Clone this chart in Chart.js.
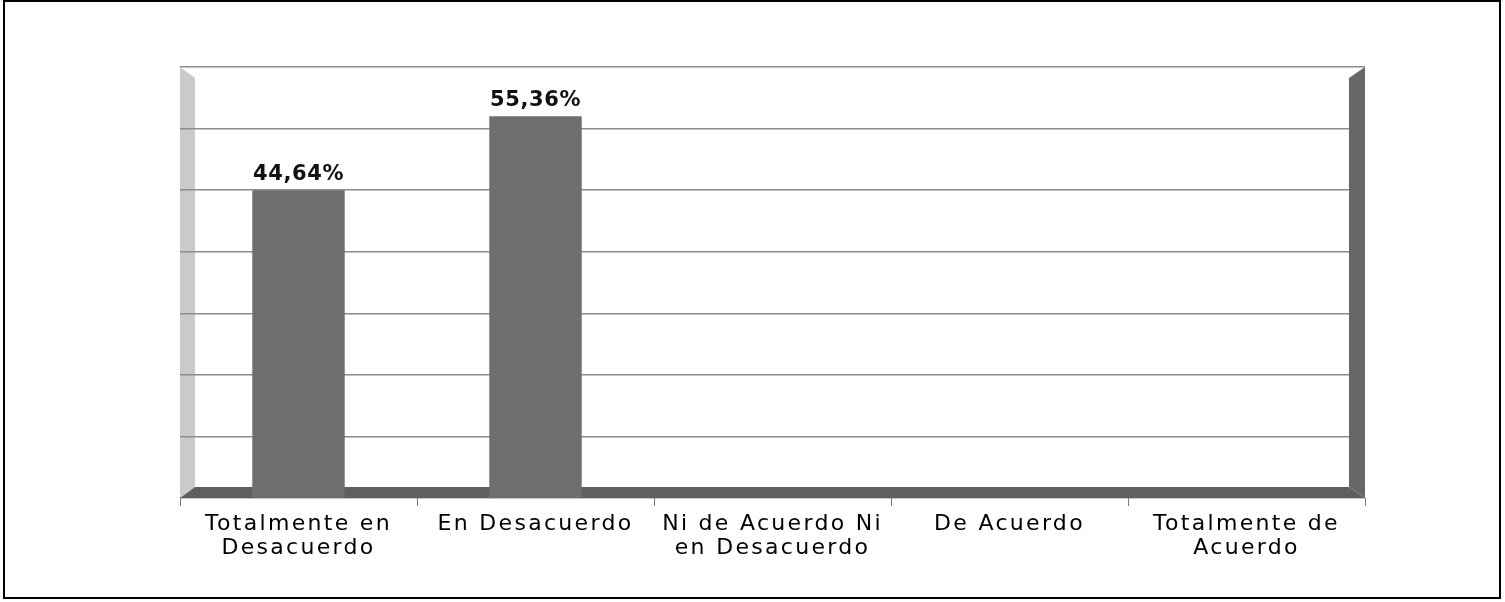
<!DOCTYPE html>
<html>
<head>
<meta charset="utf-8">
<title>Totalmente en Desacuerdo / En Desacuerdo</title>
<script src="https://cdn.jsdelivr.net/npm/chart.js@4.4.1/dist/chart.umd.min.js"></script>
<style>
  html, body { margin: 0; padding: 0; background: #fff; }
  #wrap { position: relative; width: 1505px; height: 602px; overflow: hidden; }
  #frame { position: absolute; left: 3px; top: 0; width: 1494px; height: 595px; border: 2px solid #000; pointer-events: none; }
  canvas { position: absolute; left: 0; top: 0; }
</style>
</head>
<body>
<div id="wrap">
  <canvas id="chart" width="1505" height="602"></canvas>
  <div id="frame"></div>
</div>
<script>
'use strict';

// ===== DATA =====
const categories = [
  ['Totalmente en', 'Desacuerdo'],
  ['En Desacuerdo'],
  ['Ni de Acuerdo Ni', 'en Desacuerdo'],
  ['De Acuerdo'],
  ['Totalmente de', 'Acuerdo']
];
const percentValues = [44.64, 55.36, 0, 0, 0];
const valueLabels = ['44,64%', '55,36%', '', '', ''];
// back wall grid lines (no tick labels shown in the original)
const gridTicks = [0, 10, 20, 30, 40, 50, 60, 70];

const BAR_COLOR = '#6e6e6e';
const FLOOR_COLOR = '#5f5f5f';
const RIGHT_WALL = '#676767';
const LEFT_WALL = '#cacaca';
const GRID_COLOR = '#8c8c8c';

// 3D-ish walls and floor, drawn around the chart area
const wallsPlugin = {
  id: 'walls',
  beforeDraw(chart) {
    const { ctx, chartArea: a } = chart;
    const d = 15, dy = 11;
    ctx.save();
    // left wall
    ctx.fillStyle = LEFT_WALL;
    ctx.beginPath();
    ctx.moveTo(a.left, a.top);
    ctx.lineTo(a.left + d, a.top + dy);
    ctx.lineTo(a.left + d, a.bottom - dy);
    ctx.lineTo(a.left, a.bottom);
    ctx.closePath();
    ctx.fill();
    ctx.restore();
    // wider spacing for the category labels
    ctx.letterSpacing = '2.3px';
  },
  beforeDatasetsDraw(chart) {
    const { ctx, chartArea: a } = chart;
    const d = 16, dy = 11;
    ctx.save();
    // right wall
    ctx.fillStyle = RIGHT_WALL;
    ctx.beginPath();
    ctx.moveTo(a.right - d, a.top + dy);
    ctx.lineTo(a.right, a.top);
    ctx.lineTo(a.right, a.bottom);
    ctx.lineTo(a.right - d, a.bottom - dy);
    ctx.closePath();
    ctx.fill();
    // floor
    ctx.fillStyle = FLOOR_COLOR;
    ctx.beginPath();
    ctx.moveTo(a.left, a.bottom);
    ctx.lineTo(a.left + 15, a.bottom - dy);
    ctx.lineTo(a.right - d, a.bottom - dy);
    ctx.lineTo(a.right, a.bottom);
    ctx.closePath();
    ctx.fill();
    ctx.restore();
  },
  afterDatasetsDraw(chart) {
    const { ctx } = chart;
    const meta = chart.getDatasetMeta(0);
    ctx.save();
    ctx.letterSpacing = '0.6px';
    ctx.font = 'bold 21px "DejaVu Sans"';
    ctx.fillStyle = '#111';
    ctx.textAlign = 'center';
    ctx.textBaseline = 'alphabetic';
    meta.data.forEach((bar, i) => {
      if (!valueLabels[i]) return;
      ctx.fillText(valueLabels[i], bar.x, bar.y - 10);
    });
    ctx.restore();
  },
  afterDraw(chart) {
    chart.ctx.letterSpacing = '0px';
  }
};

new Chart(document.getElementById('chart'), {
  type: 'bar',
  data: {
    labels: categories,
    datasets: [{
      data: percentValues,
      backgroundColor: BAR_COLOR,
      borderWidth: 0,
      barPercentage: 0.39,
      categoryPercentage: 1.0,
      yAxisID: 'y'
    }]
  },
  options: {
    responsive: false,
    devicePixelRatio: 1,
    animation: false,
    layout: { padding: { left: 180, right: 140, top: 67, bottom: 0 } },
    plugins: {
      legend: { display: false },
      tooltip: { enabled: false }
    },
    scales: {
      x: {
        grid: {
          display: true,
          drawOnChartArea: false,
          drawTicks: true,
          tickLength: 8,
          color: '#777',
          offset: true
        },
        border: { display: false },
        ticks: {
          color: '#000',
          padding: 6,
          maxRotation: 0,
          autoSkip: false,
          font: { family: '"DejaVu Sans"', size: 22, lineHeight: 1.1 }
        },
        afterFit(scale) { scale.height = 104; }
      },
      y: {
        display: false,
        min: 0,
        max: 62.5
      },
      yGrid: {
        position: 'left',
        min: 0,
        max: 70,
        afterBuildTicks(scale) { scale.ticks = gridTicks.map(v => ({ value: v })); },
        grid: { color: GRID_COLOR, lineWidth: 1.5, drawTicks: false },
        border: { display: false },
        ticks: { display: false },
        afterFit(scale) { scale.width = 0; }
      }
    }
  },
  plugins: [wallsPlugin]
});
</script>
</body>
</html>
